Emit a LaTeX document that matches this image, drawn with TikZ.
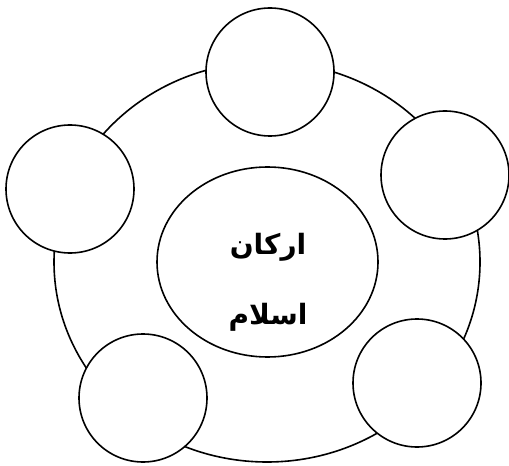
\documentclass[tikz,border=0pt]{standalone}
\usepackage{fontspec}
\usetikzlibrary{shapes.geometric}
\TeXXeTstate=1
\newfontfamily\urdufont[Script=Arabic]{DejaVu Sans}

\begin{document}
\begin{tikzpicture}[
  x=0.75pt,y=-0.75pt,
  line width=1.2pt,
  ring/.style={ellipse,draw,minimum width=319.5pt,minimum height=300pt,inner sep=0pt},
  hub/.style={ellipse,draw,fill=white,minimum width=165.75pt,minimum height=142.5pt,inner sep=0pt},
  pillar/.style={circle,draw,fill=white,minimum size=96pt,inner sep=0pt},
  label/.style={font=\urdufont\bfseries\fontsize{21}{25}\selectfont,inner sep=0pt}
]
\useasboundingbox (0,0) rectangle (509,466);
\node[ring] (ring) at (267,262) {};
\node[hub] (hub) at (267.5,262) {};

% five pillars round the ring
\node[pillar] (top) at (270,72) {};
\node[pillar] (left) at (70,189) {};
\node[pillar] (right) at (445,175) {};
\node[pillar] (lowright) at (417,383) {};
\node[pillar] (lowleft) at (143,398) {};

\node[label] (arkan) at (268,247) {\beginR ارکان\endR};
\node[label] (islam) at (268,317) {\beginR اسلام\endR};
\end{tikzpicture}
\end{document}
